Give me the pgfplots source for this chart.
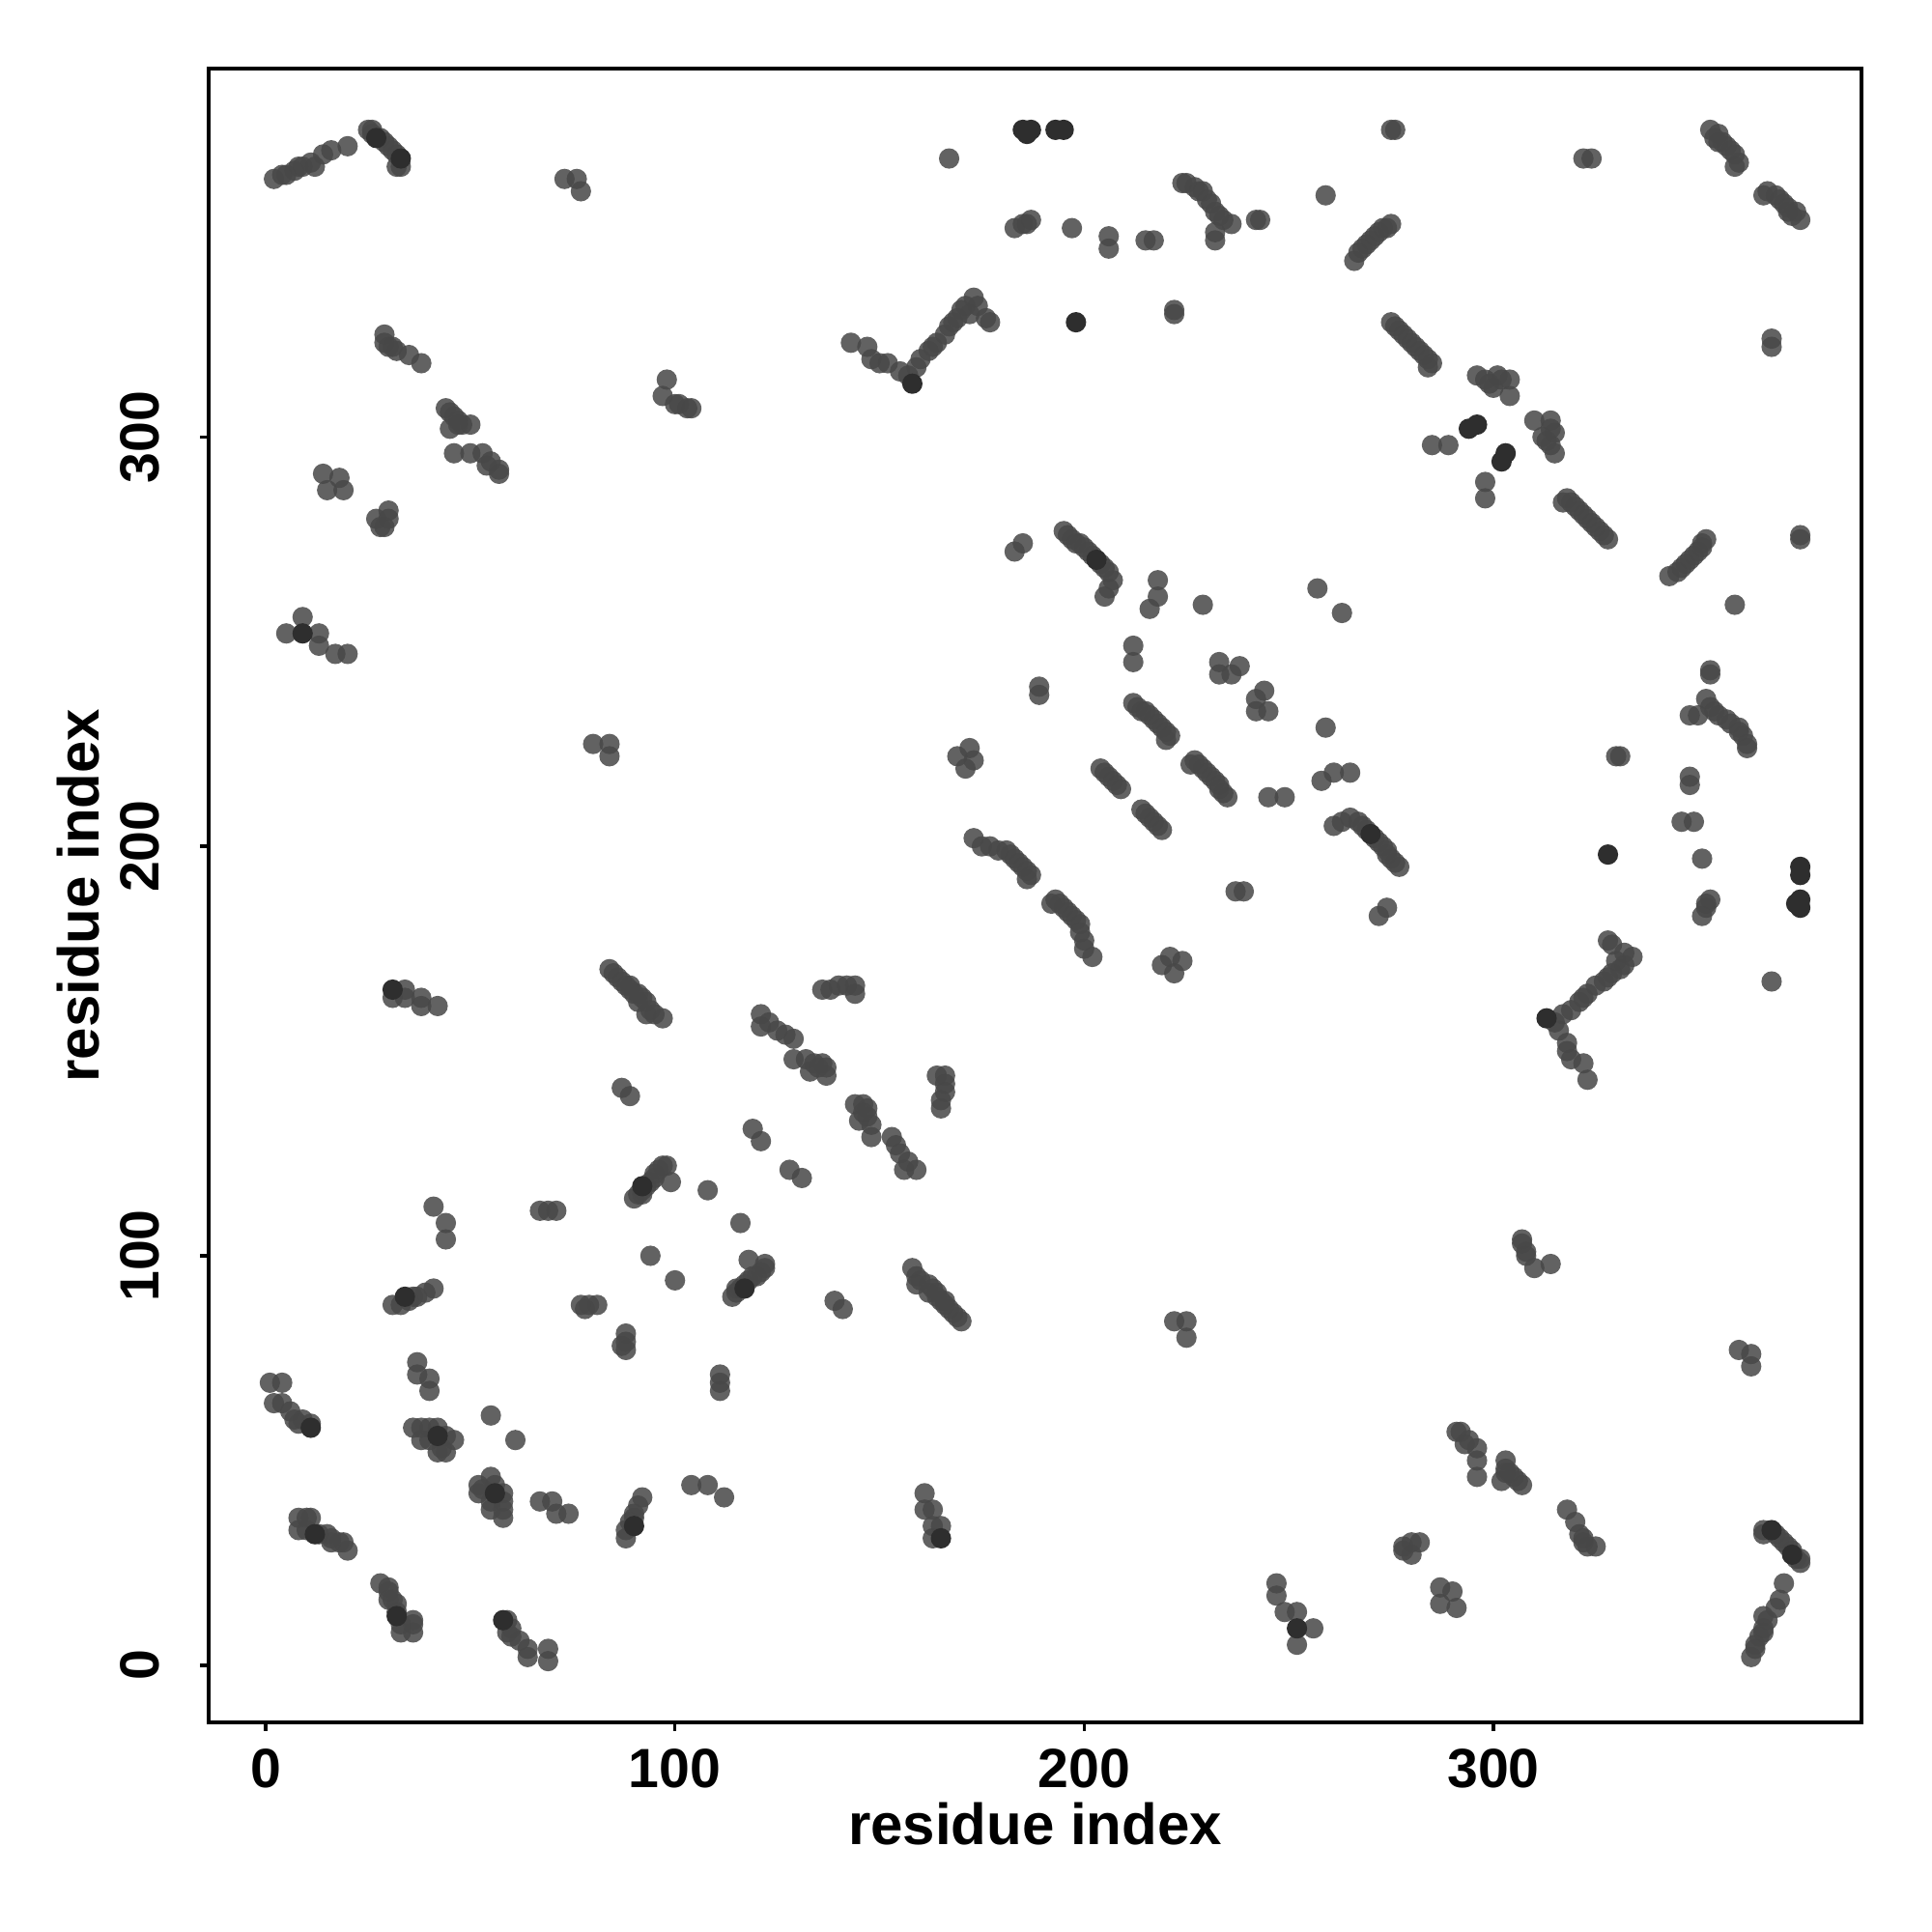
\documentclass[border=0pt]{standalone}
\usepackage{fontspec}
\setmainfont{Liberation Sans}
\usepackage{pgfplots}
\pgfplotsset{compat=1.18}
\usepackage{pgfplotstable}
\pgfplotstableread{
a b
2 363
4 364
5 364
7 365
8 366
9 366
11 367
12 366
14 369
16 370
20 371
25 375
26 375
26 374
28 373
29 372
30 371
31 370
32 369
33 366
32 366
73 363
76 363
77 360
29 325
30 322
31 322
32 321
35 320
38 318
29 323
44 307
45 306
46 305
47 304
48 303
50 303
45 302
47 303
46 296
50 296
53 296
54 293
57 292
57 291
55 294
14 291
18 290
15 287
19 287
27 280
30 282
29 278
28 278
30 280
5 252
9 256
13 252
13 249
17 247
20 247
80 225
84 225
84 222
31 163
34 163
34 165
38 163
38 161
42 161
84 170
85 169
86 168
87 167
88 166
89 165
90 164
91 164
92 163
93 162
94 160
95 159
97 158
93 159
91 162
89 166
87 141
89 139
90 114
91 115
92 116
93 117
94 118
95 119
96 121
97 122
98 122
99 118
95 120
92 115
94 100
108 116
119 131
121 128
121 159
121 156
125 155
129 153
123 157
127 154
129 148
132 148
134 147
133 145
136 147
137 146
137 144
135 146
136 165
140 166
144 166
144 164
138 165
142 166
41 112
44 108
44 104
67 111
71 111
69 111
31 88
33 88
35 89
37 90
39 91
41 92
36 90
77 88
79 88
81 88
78 87
1 69
4 69
2 64
4 64
6 62
7 60
8 59
11 59
9 60
37 74
37 71
40 70
40 67
36 58
38 58
40 58
42 58
38 55
40 55
44 56
46 55
43 53
44 52
42 52
55 61
8 36
10 36
11 36
8 33
10 33
13 32
15 32
16 30
18 30
19 30
20 28
16 31
167 368
183 351
185 352
187 353
186 352
143 323
147 322
148 319
150 318
152 318
155 316
157 315
159 317
160 319
162 321
163 322
164 323
166 325
167 327
168 328
169 329
170 331
171 332
173 334
174 332
176 329
177 328
172 330
98 314
97 310
100 308
104 307
101 308
103 307
197 351
206 349
206 346
215 348
217 348
224 362
225 362
227 361
228 360
229 360
230 358
231 357
232 355
233 354
234 353
236 352
232 348
232 350
242 353
243 353
259 359
266 343
267 345
268 346
269 347
270 348
271 349
272 350
273 351
274 351
275 352
275 375
276 375
222 331
222 330
275 328
276 327
277 326
278 325
279 324
280 323
281 322
282 321
283 320
284 319
285 318
284 317
322 368
324 368
353 375
354 373
355 372
356 372
357 371
358 370
359 369
360 367
359 366
355 374
285 298
289 298
296 315
298 314
299 313
301 315
302 314
304 314
304 310
300 312
183 272
185 274
189 239
189 237
172 224
169 222
173 221
171 219
173 202
175 200
177 200
179 199
181 199
182 198
183 197
184 196
185 195
186 194
187 193
186 192
195 277
196 276
197 275
198 274
199 274
200 273
201 272
202 271
204 269
205 268
206 267
207 265
206 263
205 261
218 265
218 261
216 258
229 259
257 263
212 249
212 245
233 245
238 244
233 242
236 242
212 235
213 234
214 233
215 233
216 232
217 231
218 230
219 229
220 228
221 227
220 226
204 219
205 218
206 217
207 216
208 215
209 214
}\upper
\pgfplotstableread{
a b
27 373
33 368
9 252
31 165
185 375
187 375
186 374
193 375
195 375
198 328
294 302
296 303
34 90
11 58
12 32
42 56
92 117
203 270
158 313
}\upperdark
\begin{document}
\begin{tikzpicture}
\begin{axis}[
  width=307.98bp, height=308.16bp, scale only axis,
  xmin=-13.96, xmax=389.96, ymin=-13.96, ymax=389.96,
  axis line style={line width=0.6bp, black},
  xtick={0,100,200,300}, ytick={0,100,200,300},
  tick pos=left, tick align=outside,
  major tick length=1.6bp,
  tick style={line width=0.6bp, black},
  /pgf/number format/assume math mode=true,
  ticklabel style={font=\bfseries\fontsize{10.3bp}{12bp}\selectfont},
  xticklabel style={inner sep=0pt, anchor=north},
  xticklabel shift=3.2bp,
  yticklabel style={rotate=90, inner sep=0pt, anchor=south},
  yticklabel shift=7.4bp,
  xlabel={residue index}, ylabel={residue index},
  label style={font=\bfseries\fontsize{10.8bp}{13bp}\selectfont},
  xlabel style={at={(axis description cs:0.5,-0.0737)}, anchor=base, inner sep=0pt},
  ylabel style={at={(axis description cs:-0.0666,0.5)}, anchor=base, inner sep=0pt},
]
\coordinate (sw) at (rel axis cs:0,0);
\coordinate (ne) at (rel axis cs:1,1);
\addplot[only marks, mark=*, mark size=1.9bp, draw=none, fill=black!72,
  mark options={draw=none, draw opacity=0, fill=black!72, fill opacity=0.85}] table[x=a, y=b] {\upper};
\addplot[only marks, mark=*, mark size=1.9bp, draw=none, fill=black!72,
  mark options={draw=none, draw opacity=0, fill=black!72, fill opacity=0.85}] table[x=b, y=a] {\upper};
\addplot[only marks, mark=*, mark size=1.9bp, draw=none, fill=black!82,
  mark options={draw=none, draw opacity=0, fill=black!82}] table[x=a, y=b] {\upperdark};
\addplot[only marks, mark=*, mark size=1.9bp, draw=none, fill=black!82,
  mark options={draw=none, draw opacity=0, fill=black!82}] table[x=b, y=a] {\upperdark};
\end{axis}
\pgfresetboundingbox
\path ([shift={(-38.88bp,-39.06bp)}]sw) rectangle ([shift={(13.14bp,12.78bp)}]ne);
\end{tikzpicture}
\end{document}
